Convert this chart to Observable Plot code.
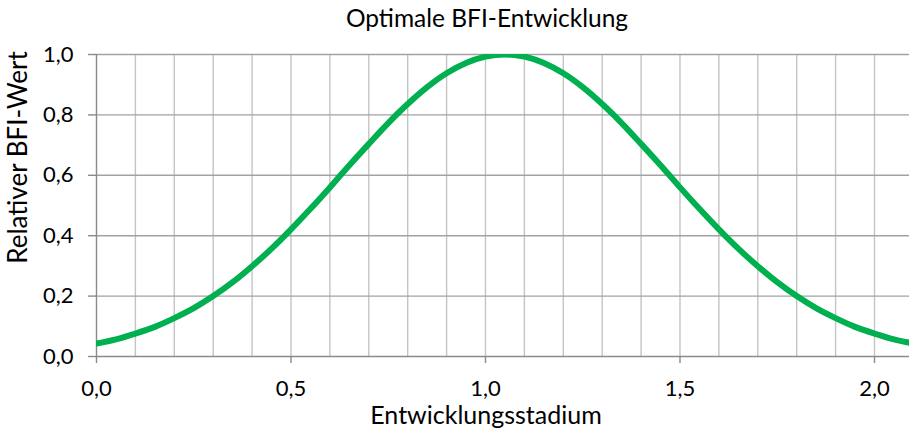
<!DOCTYPE html>
<html>
<head>
<meta charset="utf-8">
<script src="https://cdn.jsdelivr.net/npm/d3@7"></script>
<script src="https://cdn.jsdelivr.net/npm/@observablehq/plot@0.6"></script>
<style>
  html, body { margin: 0; padding: 0; background: #fff; }
  #chart svg { display: block; }
</style>
</head>
<body>
<div id="chart"></div>
<script>
// ---- data ----
const stadium = [0.00, 0.05, 0.10, 0.15, 0.20, 0.25, 0.30, 0.35, 0.40, 0.45, 0.50,
                 0.55, 0.60, 0.65, 0.70, 0.75, 0.80, 0.85, 0.90, 0.95, 1.00,
                 1.05, 1.10, 1.15, 1.20, 1.25, 1.30, 1.35, 1.40, 1.45, 1.50,
                 1.55, 1.60, 1.65, 1.70, 1.75, 1.80, 1.85, 1.90, 1.95, 2.00,
                 2.05, 2.10];
const bfiWert = [0.043, 0.057, 0.076, 0.098, 0.127, 0.160, 0.200, 0.246, 0.299, 0.357, 0.421,
                 0.489, 0.560, 0.633, 0.704, 0.773, 0.836, 0.892, 0.938, 0.972, 0.993,
                 1.000, 0.993, 0.972, 0.938, 0.892, 0.836, 0.773, 0.704, 0.633, 0.560,
                 0.489, 0.421, 0.357, 0.299, 0.246, 0.200, 0.160, 0.127, 0.098, 0.076,
                 0.057, 0.043];
const xMajorTicks = [0, 0.5, 1.0, 1.5, 2.0];
const xGridTicks = [0.1, 0.2, 0.3, 0.4, 0.5, 0.6, 0.7, 0.8, 0.9, 1.0,
                    1.1, 1.2, 1.3, 1.4, 1.5, 1.6, 1.7, 1.8, 1.9, 2.0];
const yTicks = [0, 0.2, 0.4, 0.6, 0.8, 1.0];
const titleText = "Optimale BFI-Entwicklung";
const xLabelText = "Entwicklungsstadium";
const yLabelText = "Relativer BFI-Wert";

const data = stadium.map((s, i) => ({stadium: s, wert: bfiWert[i]}));
const fmt = d => d.toFixed(1).replace(".", ",");

const chart = Plot.plot({
  width: 909,
  height: 429,
  marginLeft: 96,
  marginRight: 0,
  marginTop: 54,
  marginBottom: 73,
  style: {fontFamily: "Lato, 'Open Sans', sans-serif", color: "#000", background: "#fff"},
  x: {domain: [0, 2.09]},
  y: {domain: [0, 1]},
  marks: [
    Plot.ruleX(xGridTicks, {stroke: "#c4c4c4", strokeWidth: 1.4}),
    Plot.ruleY(yTicks.slice(1), {stroke: "#a2a2a2", strokeWidth: 1.4}),
    Plot.ruleX([0], {stroke: "#8a8a8a", strokeWidth: 1.4}),
    Plot.ruleY([0], {stroke: "#8a8a8a", strokeWidth: 1.4}),
    Plot.line(data, {x: "stadium", y: "wert", stroke: "#00b050", strokeWidth: 6,
                     curve: "catmull-rom", clip: true}),
    Plot.axisY(yTicks, {tickFormat: fmt, tickSize: 8, tickPadding: 15, fontSize: 22,
                        stroke: "#8a8a8a", strokeWidth: 1.4, color: "#000", label: null}),
    Plot.axisX(xMajorTicks, {tickFormat: fmt, tickSize: 7, tickPadding: 17, fontSize: 22,
                             stroke: "#8a8a8a", strokeWidth: 1.4, color: "#000", label: null}),
    Plot.text([titleText], {frameAnchor: "top", lineAnchor: "bottom", dx: -16, dy: -28,
                            fontSize: 24.5, fill: "#000"}),
    Plot.text([xLabelText], {frameAnchor: "bottom", lineAnchor: "bottom", dx: -17, dy: 67,
                             fontSize: 25, fill: "#000"}),
    Plot.text([yLabelText], {frameAnchor: "left", textAnchor: "middle", lineAnchor: "bottom",
                             rotate: -90, dx: -70, dy: -48, fontSize: 26, fill: "#000"})
  ]
});
document.getElementById("chart").appendChild(chart);
</script>
</body>
</html>
